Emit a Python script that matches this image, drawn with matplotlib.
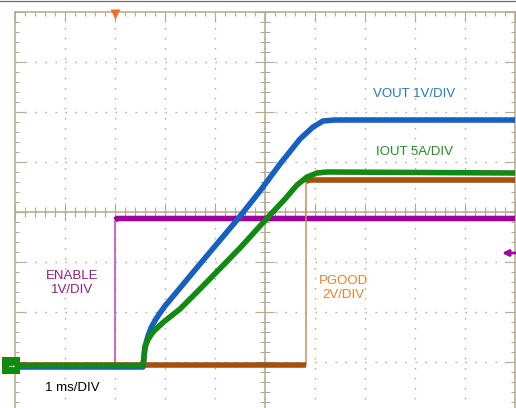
import numpy as np
import matplotlib.pyplot as plt
from matplotlib.lines import Line2D
from matplotlib.ticker import MultipleLocator

plt.rcParams['font.family'] = ['Liberation Sans', 'DejaVu Sans']

# time in ms, trigger (ENABLE edge) at 0
t_vout = [-2.0, 0.56, 0.60, 0.66, 0.72, 0.80, 0.90, 1.00, 1.70, 2.44, 2.90, 3.30, 3.70, 3.96, 4.16, 4.40, 8.0]
vout = [0.0, 0.0, 0.40, 0.62, 0.78, 0.93, 1.08, 1.22, 2.06, 2.94, 3.52, 4.06, 4.56, 4.80, 4.92, 4.94, 4.94]

t_iout = [-2.0, 0.56, 0.60, 0.66, 0.76, 0.96, 1.30, 1.70, 2.50, 3.10, 3.40, 3.64, 3.84, 4.04, 4.24, 8.0]
iout = [0.0, 0.0, 1.85, 2.60, 3.35, 4.30, 5.65, 7.65, 11.75, 15.05, 16.65, 18.05, 18.85, 19.25, 19.35, 19.25]

t_enable = [-2.0, 0.0, 0.0, 0.04, 8.0]
enable = [0.0, 0.0, 2.92, 2.95, 2.95]

t_pgood = [-2.0, 3.82, 3.82, 3.86, 8.0]
pgood = [0.0, 0.0, 7.32, 7.40, 7.40]

# per channel: units per division, ground position (screen divisions)
vout_div, vout_pos = 1.0, -3.10
iout_div, iout_pos = 5.0, -3.07
enable_div, enable_pos = 1.0, -3.08
pgood_div, pgood_pos = 2.0, -3.06

tan = '#b4aa8e'
c_vout = '#1660c0'
c_iout = '#118a11'
c_enable = '#a000a0'
c_pgood = '#a5500c'

XMIN, XMAX = -2, 8
YMIN, YMAX = -3.92, 4


def split_edges(t, v):
    # break the thick line at vertical edges so they can be drawn thin
    tt, vv = [t[0]], [v[0]]
    for i in range(1, len(t)):
        if t[i] == t[i - 1]:
            tt.append(np.nan)
            vv.append(np.nan)
        tt.append(t[i])
        vv.append(v[i])
    return np.array(tt), np.array(vv)


def trace(ax, t, v, per_div, pos, color, z, edge_color):
    t = np.asarray(t, float)
    s = np.asarray(v, float) / per_div + pos
    ax.plot(t, s, color=edge_color, lw=1.1, zorder=z)
    ts, ss = split_edges(t, s)
    ax.plot(ts, ss, color=color, lw=4.0, zorder=z, solid_capstyle='butt',
            solid_joinstyle='round')


fig = plt.figure(figsize=(5.16, 4.08), dpi=100)
rect = [15 / 516, 0, 500 / 516, 396 / 408]

# background: border with ticks and dotted grid
bg = fig.add_axes(rect)
bg.set_xlim(XMIN, XMAX)
bg.set_ylim(YMIN, YMAX)
for side in ['left', 'top', 'right']:
    bg.spines[side].set_color(tan)
    bg.spines[side].set_linewidth(1.1)
bg.spines['bottom'].set_visible(False)
bg.xaxis.set_major_locator(MultipleLocator(1))
bg.xaxis.set_minor_locator(MultipleLocator(0.2))
bg.yaxis.set_major_locator(MultipleLocator(1))
bg.yaxis.set_minor_locator(MultipleLocator(0.2))
bg.tick_params(which='both', direction='in', top=True, right=True, bottom=False,
               left=True, labelbottom=False, labelleft=False, color=tan, width=0.8)
bg.tick_params(which='major', length=7.2)
bg.tick_params(which='minor', length=2.9)
for k in range(XMIN + 1, XMAX):
    bg.plot([k, k], [-4, YMAX], color=tan, lw=1.0, ls=(0, (1.08, 6.12)))
for k in range(-3, 4):
    bg.plot([XMIN, XMAX], [k, k], color=tan, lw=1.0, ls=(0, (1.08, 6.12)))

# center axes and traces
ax = fig.add_axes(rect, facecolor='none')
ax.set_xlim(XMIN, XMAX)
ax.set_ylim(YMIN, YMAX)
ax.spines['left'].set_position(('data', 3))
ax.spines['bottom'].set_position(('data', 0))
ax.spines['top'].set_visible(False)
ax.spines['right'].set_visible(False)
for side in ['left', 'bottom']:
    ax.spines[side].set_color(tan)
    ax.spines[side].set_linewidth(1.1)
ax.xaxis.set_major_locator(MultipleLocator(1))
ax.xaxis.set_minor_locator(MultipleLocator(0.2))
ax.yaxis.set_major_locator(MultipleLocator(1))
ax.yaxis.set_minor_locator(MultipleLocator(0.2))
ax.tick_params(which='both', direction='inout', labelbottom=False, labelleft=False,
               color=tan, width=0.8)
ax.tick_params(which='major', length=13)
ax.tick_params(which='minor', length=6.5)

trace(ax, t_enable, enable, enable_div, enable_pos, c_enable, 3, '#c040c0')
trace(ax, t_pgood, pgood, pgood_div, pgood_pos, c_pgood, 4, '#c89060')
trace(ax, t_vout, vout, vout_div, vout_pos, c_vout, 5, c_vout)
trace(ax, t_iout, iout, iout_div, iout_pos, c_iout, 6, c_iout)

fs = 9.5
ax.text(5.98, 2.36, 'VOUT 1V/DIV', color='#2378c8', fontsize=fs, ha='center', va='center')
ax.text(6.0, 1.2, 'IOUT 5A/DIV', color='#1f8f1f', fontsize=fs, ha='center', va='center')
ax.text(-0.85, -1.42, 'ENABLE\n1V/DIV', color='#8a1f8a', fontsize=fs, ha='center',
        va='center', linespacing=1.25)
ax.text(4.56, -1.52, 'PGOOD\n2V/DIV', color='#e8822a', fontsize=fs, ha='center',
        va='center', linespacing=1.25)
ax.text(-0.86, -3.52, '1 ms/DIV', color='black', fontsize=fs, ha='center', va='center')

# scope markers
ax.plot([0], [3.97], marker='v', ms=7, color='#f26b21', mec='none', clip_on=False, zorder=8)
ax.text(-2.08, iout_pos, '\u2192', color='white', fontsize=7, ha='center', va='center',
        fontweight='bold', zorder=8,
        bbox=dict(boxstyle='square,pad=0.4', fc=c_iout, ec='none'), clip_on=False)
ax.annotate('', xy=(7.74, -0.82), xytext=(8.0, -0.82), annotation_clip=False,
            arrowprops=dict(arrowstyle='-|>', color=c_enable, lw=2.0, mutation_scale=9,
                            shrinkA=0, shrinkB=0))

fig.add_artist(Line2D([0, 1], [1 - 0.5 / 408, 1 - 0.5 / 408], color='#6a6a6a', lw=0.9,
                      transform=fig.transFigure))

fig.savefig('out.png', dpi=100)
